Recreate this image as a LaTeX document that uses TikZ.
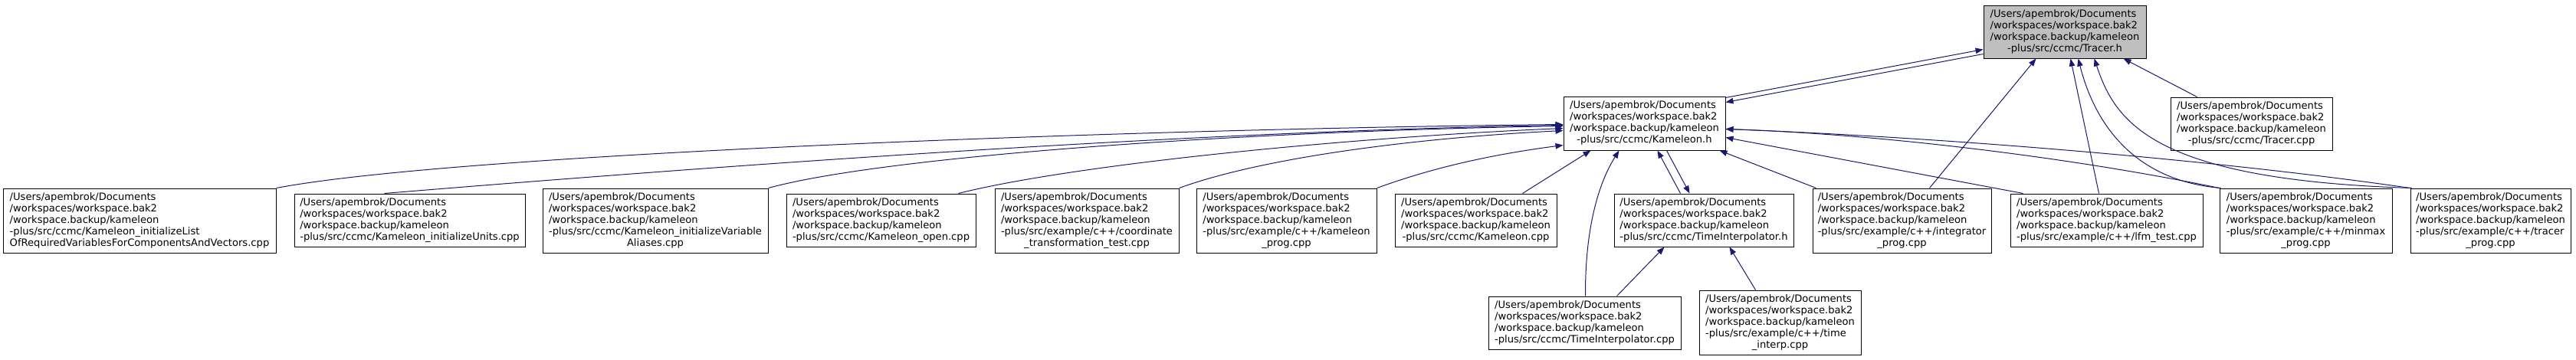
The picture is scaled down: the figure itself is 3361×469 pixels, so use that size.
\documentclass[tikz,border=0pt]{standalone}
\usepackage{fontspec}
\setmainfont{DejaVu Sans}
\usetikzlibrary{arrows.meta}
\definecolor{edgeblue}{RGB}{25,25,112}
\definecolor{rootgray}{RGB}{191,191,191}
\tikzset{
  filebox/.style={draw=black,line width=1pt,fill=white,inner sep=0pt,
    font=\fontsize{13.1pt}{15pt}\selectfont},
  rootbox/.style={filebox,fill=rootgray},
  incl/.style={draw=edgeblue,line width=1pt,-{Triangle[length=10pt,width=7.5pt]},color=edgeblue}
}
\newcommand{\pfx}{/Users/apembrok/Documents\\/workspaces/workspace.bak2\\/workspace.backup/kameleon}
\newcommand{\lblfour}[1]{\begin{tabular}{@{}l@{}}\pfx\\\multicolumn{1}{@{}c@{}}{#1}\end{tabular}}
\newcommand{\lblfive}[2]{\begin{tabular}{@{}l@{}}\pfx\\#1\\\multicolumn{1}{@{}c@{}}{#2}\end{tabular}}

\begin{document}
\begin{tikzpicture}[x=1pt,y=-1pt]
    \useasboundingbox (0,0) rectangle (3361,469);
    % top
    \node[rootbox,minimum width=212,minimum height=69] (T) at (2694,41.5) {\lblfour{-plus/src/ccmc/Tracer.h}};
    \node[filebox,minimum width=211,minimum height=70] (K) at (2145.5,161) {\lblfour{-plus/src/ccmc/Kameleon.h}};
    \node[filebox,minimum width=211,minimum height=69] (TC) at (2937.5,161.5) {\lblfour{-plus/src/ccmc/Tracer.cpp}};
    % second row
    \node[filebox,minimum width=356,minimum height=84] (B1) at (182,288) {\lblfive{-plus/src/ccmc/Kameleon\_initializeList}{OfRequiredVariablesForComponentsAndVectors.cpp}};
    \node[filebox,minimum width=301,minimum height=69] (B2) at (534.5,287.5) {\lblfour{-plus/src/ccmc/Kameleon\_initializeUnits.cpp}};
    \node[filebox,minimum width=294,minimum height=84] (B3) at (855,288) {\lblfive{-plus/src/ccmc/Kameleon\_initializeVariable}{Aliases.cpp}};
    \node[filebox,minimum width=247,minimum height=69] (B4) at (1149.5,287.5) {\lblfour{-plus/src/ccmc/Kameleon\_open.cpp}};
    \node[filebox,minimum width=240,minimum height=84] (B5) at (1418,288) {\lblfive{-plus/src/example/c++/coordinate}{\_transformation\_test.cpp}};
    \node[filebox,minimum width=235,minimum height=84] (B6) at (1678.5,288) {\lblfive{-plus/src/example/c++/kameleon}{\_prog.cpp}};
    \node[filebox,minimum width=211,minimum height=69] (B7) at (1925.5,287.5) {\lblfour{-plus/src/ccmc/Kameleon.cpp}};
    \node[filebox,minimum width=234,minimum height=69] (TIh) at (2223,287.5) {\lblfour{-plus/src/ccmc/TimeInterpolator.h}};
    \node[filebox,minimum width=233,minimum height=84] (IP) at (2481.5,288) {\lblfive{-plus/src/example/c++/integrator}{\_prog.cpp}};
    \node[filebox,minimum width=251,minimum height=69] (LFM) at (2748.5,287.5) {\lblfour{-plus/src/example/c++/lfm\_test.cpp}};
    \node[filebox,minimum width=225,minimum height=84] (MM) at (3008.5,288) {\lblfive{-plus/src/example/c++/minmax}{\_prog.cpp}};
    \node[filebox,minimum width=209,minimum height=84] (TP) at (3249.5,288) {\lblfive{-plus/src/example/c++/tracer}{\_prog.cpp}};
    % bottom
    \node[filebox,minimum width=251,minimum height=69] (TIc) at (2067.5,421.5) {\lblfour{-plus/src/ccmc/TimeInterpolator.cpp}};
    \node[filebox,minimum width=211,minimum height=84] (TI) at (2322.5,421) {\lblfive{-plus/src/example/c++/time}{\_interp.cpp}};

    % edges into Tracer.h
    \draw[incl] ([yshift=-2]K.north east) -- ([yshift=12]T.south west);
    \draw[incl] ([yshift=6]T.south west) -- ([yshift=-8]K.north east);
    \draw[incl] ([xshift=35]TC.north west) -- ([xshift=-30]T.south east);
    \draw[incl] ([xshift=153]IP.north west) -- ([xshift=69]T.south west);
    \draw[incl] ([xshift=116]LFM.north west) -- ([xshift=114]T.south west);
    \draw[incl] ([xshift=2]MM.north west) .. controls (2775,235) and (2730,150) .. ([xshift=124]T.south west);
    \draw[incl] ([xshift=2]TP.north west) .. controls (2810,235) and (2760,160) .. ([xshift=145]T.south west);
    % edges into Kameleon.h
    \draw[incl] (B1.north east) .. controls (600,200) and (1500,168) .. ([yshift=-37]K.north west);
    \draw[incl] ([xshift=118]B2.north west) .. controls (800,228) and (1500,172) .. ([yshift=-38]K.north west);
    \draw[incl] (B3.north east) .. controls (1150,205) and (1600,172) .. ([yshift=-39]K.north west);
    \draw[incl] ([xshift=-23]B4.north east) .. controls (1400,215) and (1750,180) .. ([yshift=-42]K.north west);
    \draw[incl] (B5.north east) .. controls (1650,205) and (1850,180) .. ([yshift=-45]K.north west);
    \draw[incl] (B6.north east) .. controls (1880,215) and (1960,200) .. ([yshift=7]K.south west);
    \draw[incl] ([xshift=-45]B7.north east) -- ([xshift=36]K.south west);
    \draw[incl] ([xshift=1]TIc.north) .. controls (2068,300) and (2085,240) .. ([xshift=73]K.south west);
    \draw[incl] ([xshift=87]TIh.north west) -- ([xshift=123]K.south west);
    \draw[incl] ([xshift=5]IP.north west) -- ([xshift=-8]K.south east);
    \draw[incl] ([xshift=17]LFM.north west) -- ([yshift=17]K.south east);
    \draw[incl] (MM.north west) .. controls (2700,205) and (2450,175) .. ([yshift=28]K.south east);
    \draw[incl] (TP.north west) .. controls (2900,210) and (2550,180) .. ([yshift=28]K.south east);
    % edges into TimeInterpolator.h
    \draw[incl] ([xshift=-77]K.south east) -- ([xshift=99]TIh.north west);
    \draw[incl] ([xshift=-84]TIc.north east) -- ([xshift=66]TIh.south west);
    \draw[incl] ([xshift=-32]TI.north) -- ([xshift=-84]TIh.south east);
  \end{tikzpicture}
\end{document}
